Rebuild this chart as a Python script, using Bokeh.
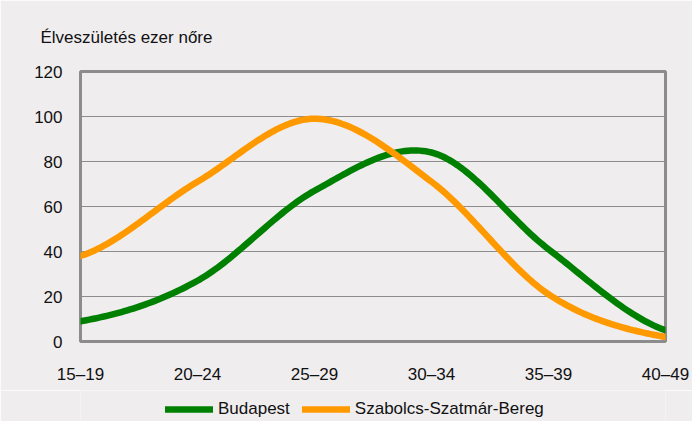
import numpy as np
from bokeh.plotting import figure
from bokeh.layouts import column
from bokeh.models import Legend, LegendItem, Title, FixedTicker, Range1d
from bokeh.embed import file_html
from bokeh.resources import INLINE

# ---- data ----
age_groups = ["15–19", "20–24", "25–29", "30–34", "35–39", "40–49"]
budapest = [9, 27, 67, 84, 41, 5]
szabolcs = [38, 71, 99, 71, 21, 2]
y_ticks = [0, 20, 40, 60, 80, 100, 120]
y_title = "Élveszületés ezer nőre"
series_names = ["Budapest", "Szabolcs-Szatmár-Bereg"]


def smooth(values, steps=40):
    """Catmull-Rom (Excel-style) smoothing through the category points."""
    pts = np.array(values, dtype=float)
    n = len(pts)
    xs, ys = [], []
    for i in range(n - 1):
        p0 = pts[i - 1] if i > 0 else pts[i]
        p1 = pts[i]
        p2 = pts[i + 1]
        p3 = pts[i + 2] if i + 2 < n else pts[i + 1]
        c1 = p1 + (p2 - p0) / 6.0
        c2 = p2 - (p3 - p1) / 6.0
        t = np.linspace(0, 1, steps, endpoint=(i == n - 2))
        b = ((1 - t) ** 3) * p1 + 3 * ((1 - t) ** 2) * t * c1 + 3 * (1 - t) * t ** 2 * c2 + t ** 3 * p2
        xs.extend(i + t)
        ys.extend(b)
    return xs, ys


FONT = "Liberation Sans"
BG = "#f0edef"
GRID = "#8c8c8c"
TXT = "#111111"
colors = ["#008000", "#ff9900"]
LW = 6.5

p = figure(
    width=692, height=390,
    output_backend="svg", toolbar_location=None, title=None,
    x_range=Range1d(0, len(age_groups) - 1), y_range=Range1d(0, 120),
    min_border_left=80, min_border_right=27, min_border_top=70, min_border_bottom=49,
)
p.background_fill_color = BG
p.border_fill_color = BG
p.outline_line_color = GRID
p.outline_line_width = 3

# grid
p.xgrid.grid_line_color = None
p.ygrid.grid_line_color = GRID
p.ygrid.grid_line_width = 1

# axes
p.yaxis.ticker = FixedTicker(ticks=y_ticks)
p.xaxis.ticker = FixedTicker(ticks=list(range(len(age_groups))))
p.xaxis.major_label_overrides = {i: lab for i, lab in enumerate(age_groups)}
for ax in (p.xaxis[0], p.yaxis[0]):
    ax.axis_line_color = None
    ax.major_tick_line_color = None
    ax.minor_tick_line_color = None
    ax.major_tick_out = 0
    ax.major_tick_in = 0
    ax.major_label_text_font = FONT
    ax.major_label_text_font_size = "17px"
    ax.major_label_text_color = TXT
p.yaxis.major_label_standoff = 18
p.xaxis.major_label_standoff = 23

for vals, col in zip([budapest, szabolcs], colors):
    xs, ys = smooth(vals)
    p.line(xs, ys, line_color=col, line_width=LW, line_join="round", line_cap="round")

title = Title(
    text=y_title, align="left", offset=-40, standoff=50,
    text_font=FONT, text_font_size="17px", text_color=TXT,
    text_font_style="normal",
)
p.add_layout(title, "above")

# ---- legend strip below the chart ----
lf = figure(
    width=692, height=31, output_backend="svg", toolbar_location=None, title=None,
    x_axis_type=None, y_axis_type=None,
    min_border=0, min_border_left=0, min_border_right=0, min_border_top=0, min_border_bottom=0,
    x_range=Range1d(0, 1), y_range=Range1d(0, 1),
)
lf.background_fill_color = BG
lf.border_fill_color = BG
lf.outline_line_color = None
lf.grid.visible = False
# legend-only renderers, placed outside the visible range
leg_renderers = [
    lf.line([-10, -9], [-10, -9], line_color=col, line_width=LW, line_cap="round") for col in colors
]
legend = Legend(
    items=[LegendItem(label=n, renderers=[r]) for n, r in zip(series_names, leg_renderers)],
    orientation="horizontal", location=(85, 2),
    glyph_width=48, glyph_height=20, label_height=20,
    label_standoff=5, spacing=12,
    padding=0, margin=0, border_line_color=None, background_fill_alpha=0,
    label_text_font=FONT, label_text_font_size="17px", label_text_color=TXT,
)
lf.add_layout(legend, "center")

layout = column(p, lf, spacing=0)
open("out.html", "w").write(file_html(layout, INLINE))
